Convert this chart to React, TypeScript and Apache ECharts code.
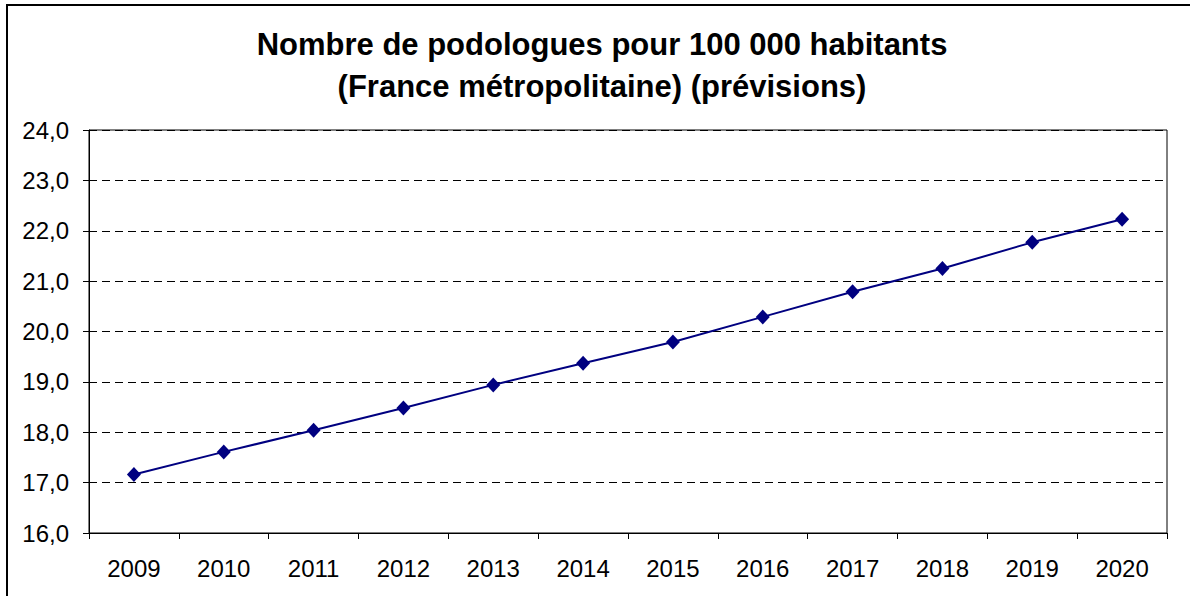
import React, { useEffect, useRef } from "react";
import * as echarts from "echarts";

const years = ["2009", "2010", "2011", "2012", "2013", "2014", "2015", "2016", "2017", "2018", "2019", "2020"];
const values = [17.16, 17.61, 18.04, 18.48, 18.94, 19.37, 19.79, 20.29, 20.79, 21.25, 21.77, 22.23];
const titleLines = ["Nombre de podologues pour 100 000 habitants", "(France métropolitaine) (prévisions)"];

export default function App() {
  const ref = useRef<HTMLDivElement>(null);
  useEffect(() => {
    if (!ref.current) return;
    const chart = echarts.init(ref.current, null, { renderer: "svg" });
    const font = "Arial, 'Liberation Sans', sans-serif";
    chart.setOption({
      animation: false,
      backgroundColor: "#ffffff",
      textStyle: { fontFamily: font },
      title: {
        text: titleLines.join("\n"),
        left: 602,
        textAlign: "center",
        top: 23,
        padding: 0,
        textStyle: { fontFamily: font, fontSize: 31, fontWeight: "bold", color: "#000", lineHeight: 42 },
      },
      graphic: [
        {
          type: "rect",
          shape: { x: 7, y: 5, width: 1200, height: 620 },
          style: { fill: "none", stroke: "#000", lineWidth: 2 },
          silent: true,
        },
      ],
      grid: { left: 89, top: 130, width: 1078, height: 403, show: true, borderColor: "#000", borderWidth: 1, backgroundColor: "transparent" },
      xAxis: {
        type: "category",
        data: years,
        boundaryGap: true,
        axisLine: { lineStyle: { color: "#000", width: 1 } },
        axisTick: { show: true, length: 6, lineStyle: { color: "#000" } },
        axisLabel: { color: "#000", fontSize: 24, margin: 23, fontFamily: font },
        splitLine: { show: false },
      },
      yAxis: {
        type: "value",
        min: 16,
        max: 24,
        interval: 1,
        axisLine: { show: true, lineStyle: { color: "#000", width: 1 } },
        axisTick: { show: true, length: 6, lineStyle: { color: "#000" } },
        axisLabel: { color: "#000", fontSize: 24, margin: 20, fontFamily: font, formatter: (v: number) => v.toFixed(1).replace(".", ",") },
        splitLine: { show: true, lineStyle: { color: "#000", width: 1, type: [8, 5] } },
      },
      series: [
        {
          type: "line",
          data: values,
          symbol: "diamond",
          symbolSize: [14, 15],
          lineStyle: { color: "#000080", width: 2 },
          itemStyle: { color: "#000080" },
        },
      ],
    });
    return () => chart.dispose();
  }, []);
  return <div ref={ref} style={{ position: "absolute", left: 0, top: 0, width: 1190, height: 596 }} />;
}
